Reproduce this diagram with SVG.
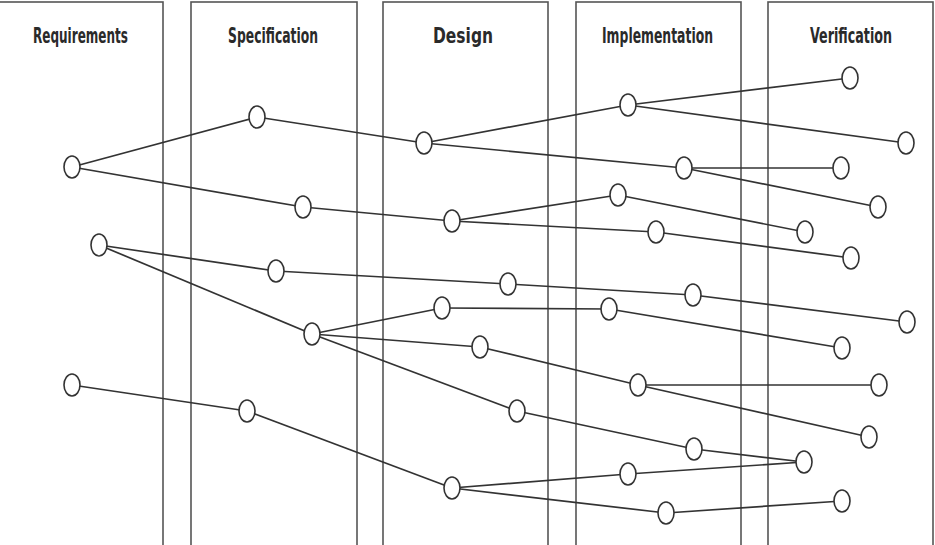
<svg xmlns="http://www.w3.org/2000/svg" width="935" height="545" viewBox="0 0 935 545">
<style>
.col{fill:none;stroke:#555;stroke-width:1.6}
.hd{font-family:"Liberation Sans Narrow","DejaVu Sans Condensed","DejaVu Sans",sans-serif;font-size:22px;font-weight:bold;fill:#2a2a2a;text-anchor:middle}
.e{stroke:#333;stroke-width:1.7;fill:none}
.n ellipse{fill:#fff;stroke:#333;stroke-width:1.6}
</style>
<rect width="935" height="545" fill="#fff"/>
<g id="columns">
<rect class="col" x="-3" y="2" width="166" height="560"/>
<rect class="col" x="191" y="2" width="166" height="560"/>
<rect class="col" x="383" y="2" width="165" height="560"/>
<rect class="col" x="576" y="2" width="165" height="560"/>
<rect class="col" x="768" y="2" width="165" height="560"/>
</g>
<g id="headers">
<text class="hd" x="80.5" y="43" textLength="95" lengthAdjust="spacingAndGlyphs">Requirements</text>
<text class="hd" x="273" y="43" textLength="90" lengthAdjust="spacingAndGlyphs">Specification</text>
<text class="hd" x="463" y="43" textLength="60" lengthAdjust="spacingAndGlyphs">Design</text>
<text class="hd" x="657.5" y="43" textLength="111" lengthAdjust="spacingAndGlyphs">Implementation</text>
<text class="hd" x="851" y="43" textLength="82" lengthAdjust="spacingAndGlyphs">Verification</text>
</g>
<g id="connectors">
<line class="e" x1="72" y1="167" x2="257" y2="117"/>
<line class="e" x1="72" y1="167" x2="303" y2="207"/>
<line class="e" x1="257" y1="117" x2="424" y2="143"/>
<line class="e" x1="424" y1="143" x2="628" y2="105"/>
<line class="e" x1="424" y1="143" x2="684" y2="168"/>
<line class="e" x1="628" y1="105" x2="850" y2="78"/>
<line class="e" x1="628" y1="105" x2="906" y2="143"/>
<line class="e" x1="684" y1="168" x2="841" y2="168"/>
<line class="e" x1="684" y1="168" x2="878" y2="207"/>
<line class="e" x1="303" y1="207" x2="452" y2="221"/>
<line class="e" x1="452" y1="221" x2="618" y2="195"/>
<line class="e" x1="452" y1="221" x2="656" y2="232"/>
<line class="e" x1="618" y1="195" x2="805" y2="232"/>
<line class="e" x1="656" y1="232" x2="851" y2="258"/>
<line class="e" x1="99" y1="245" x2="276" y2="271"/>
<line class="e" x1="99" y1="245" x2="312" y2="334"/>
<line class="e" x1="276" y1="271" x2="508" y2="284"/>
<line class="e" x1="508" y1="284" x2="693" y2="295"/>
<line class="e" x1="693" y1="295" x2="907" y2="322"/>
<line class="e" x1="312" y1="334" x2="442" y2="308"/>
<line class="e" x1="312" y1="334" x2="480" y2="347"/>
<line class="e" x1="312" y1="334" x2="517" y2="411"/>
<line class="e" x1="442" y1="308" x2="609" y2="309"/>
<line class="e" x1="609" y1="309" x2="842" y2="348"/>
<line class="e" x1="480" y1="347" x2="638" y2="385"/>
<line class="e" x1="638" y1="385" x2="879" y2="385"/>
<line class="e" x1="638" y1="385" x2="869" y2="437"/>
<line class="e" x1="517" y1="411" x2="694" y2="449"/>
<line class="e" x1="694" y1="449" x2="804" y2="462"/>
<line class="e" x1="72" y1="385" x2="247" y2="411"/>
<line class="e" x1="247" y1="411" x2="452" y2="488"/>
<line class="e" x1="452" y1="488" x2="628" y2="474"/>
<line class="e" x1="452" y1="488" x2="666" y2="513"/>
<line class="e" x1="628" y1="474" x2="804" y2="462"/>
<line class="e" x1="666" y1="513" x2="842" y2="501"/>
</g>
<g class="n">
<g id="n1"><ellipse cx="72" cy="167" rx="8" ry="11"/></g>
<g id="n2"><ellipse cx="257" cy="117" rx="8" ry="11"/></g>
<g id="n3"><ellipse cx="424" cy="143" rx="8" ry="11"/></g>
<g id="n4"><ellipse cx="303" cy="207" rx="8" ry="11"/></g>
<g id="n5"><ellipse cx="452" cy="221" rx="8" ry="11"/></g>
<g id="n6"><ellipse cx="99" cy="245" rx="8" ry="11"/></g>
<g id="n7"><ellipse cx="276" cy="271" rx="8" ry="11"/></g>
<g id="n8"><ellipse cx="850" cy="78" rx="8" ry="11"/></g>
<g id="n9"><ellipse cx="628" cy="105" rx="8" ry="11"/></g>
<g id="n10"><ellipse cx="906" cy="143" rx="8" ry="11"/></g>
<g id="n11"><ellipse cx="684" cy="168" rx="8" ry="11"/></g>
<g id="n12"><ellipse cx="841" cy="168" rx="8" ry="11"/></g>
<g id="n13"><ellipse cx="878" cy="207" rx="8" ry="11"/></g>
<g id="n14"><ellipse cx="618" cy="195" rx="8" ry="11"/></g>
<g id="n15"><ellipse cx="805" cy="232" rx="8" ry="11"/></g>
<g id="n16"><ellipse cx="656" cy="232" rx="8" ry="11"/></g>
<g id="n17"><ellipse cx="851" cy="258" rx="8" ry="11"/></g>
<g id="n18"><ellipse cx="508" cy="284" rx="8" ry="11"/></g>
<g id="n19"><ellipse cx="693" cy="295" rx="8" ry="11"/></g>
<g id="n20"><ellipse cx="907" cy="322" rx="8" ry="11"/></g>
<g id="n21"><ellipse cx="312" cy="334" rx="8" ry="11"/></g>
<g id="n22"><ellipse cx="442" cy="308" rx="8" ry="11"/></g>
<g id="n23"><ellipse cx="609" cy="309" rx="8" ry="11"/></g>
<g id="n24"><ellipse cx="842" cy="348" rx="8" ry="11"/></g>
<g id="n25"><ellipse cx="480" cy="347" rx="8" ry="11"/></g>
<g id="n26"><ellipse cx="638" cy="385" rx="8" ry="11"/></g>
<g id="n27"><ellipse cx="879" cy="385" rx="8" ry="11"/></g>
<g id="n28"><ellipse cx="869" cy="437" rx="8" ry="11"/></g>
<g id="n29"><ellipse cx="517" cy="411" rx="8" ry="11"/></g>
<g id="n30"><ellipse cx="694" cy="449" rx="8" ry="11"/></g>
<g id="n31"><ellipse cx="804" cy="462" rx="8" ry="11"/></g>
<g id="n32"><ellipse cx="72" cy="385" rx="8" ry="11"/></g>
<g id="n33"><ellipse cx="247" cy="411" rx="8" ry="11"/></g>
<g id="n34"><ellipse cx="452" cy="488" rx="8" ry="11"/></g>
<g id="n35"><ellipse cx="628" cy="474" rx="8" ry="11"/></g>
<g id="n36"><ellipse cx="666" cy="513" rx="8" ry="11"/></g>
<g id="n37"><ellipse cx="842" cy="501" rx="8" ry="11"/></g>
</g>
</svg>
